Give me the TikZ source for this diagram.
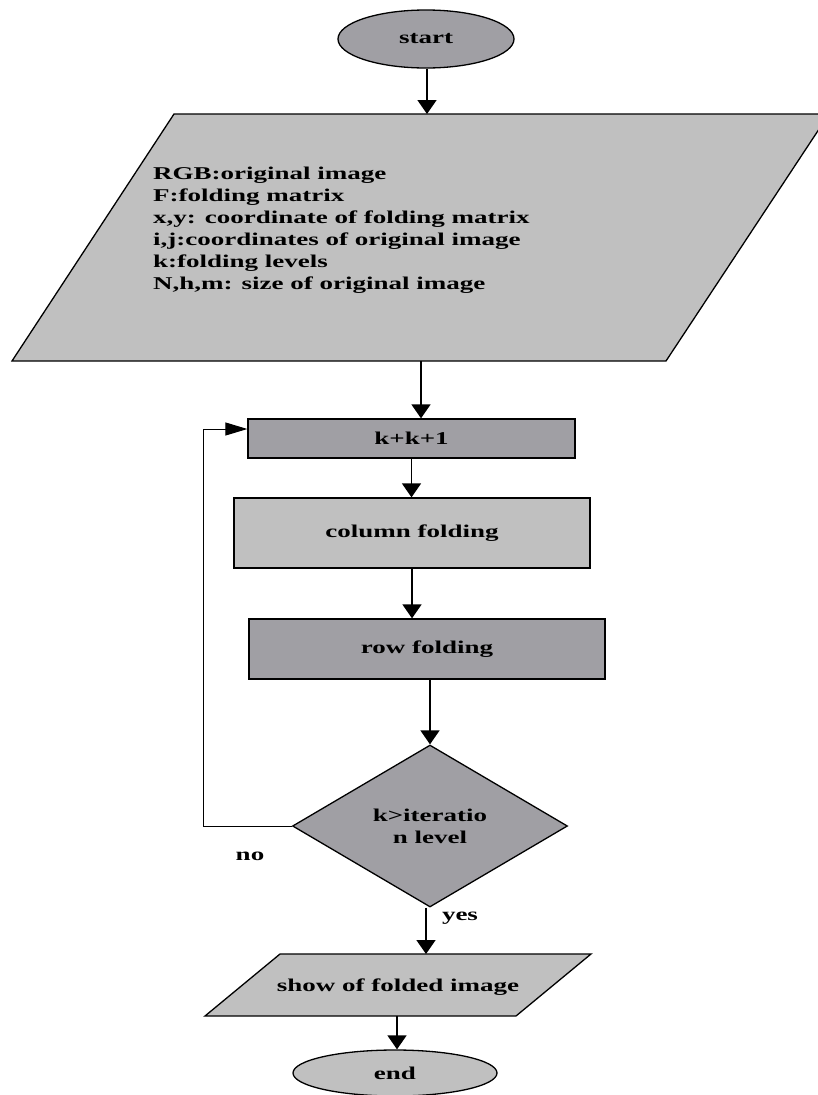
\documentclass[tikz,border=0pt]{standalone}
\usepackage{fontspec}
\setmainfont{Liberation Serif}[FakeStretch=1.5]
\usetikzlibrary{shapes.geometric,arrows.meta,calc}
\definecolor{darkg}{HTML}{A09FA4}
\definecolor{lightg}{HTML}{C0C0C0}
\begin{document}
\begin{tikzpicture}[x=1pt,y=-1pt,
  lbl/.style={font=\fontsize{18}{22}\selectfont\bfseries, inner sep=0pt},
  shp/.style={draw=black, line width=1.3pt},
  varrow/.style={line width=1.6pt, -{Triangle[length=14pt,width=19pt]}},
  harrow/.style={line width=1pt, -{Triangle[length=22pt,width=13pt]}},
  boxnode/.style={shp, rectangle, lbl},
  ovalnode/.style={shp, ellipse, lbl},
]
\useasboundingbox (0,0) rectangle (817,1095);

% start
\node[ovalnode, fill=darkg, minimum width=176pt, minimum height=58pt] (start) at (426,39) {start};

% input parallelogram
\draw[shp, fill=lightg] (174,114) -- (829,114) -- (666,361) -- (12,361) -- cycle;
\coordinate (pin) at (427,114);
\coordinate (pout) at (421,361);
\node[lbl, align=left, anchor=west] (inp) at (153,230) {RGB:original image\\F:folding matrix\\x,y: coordinate of folding matrix\\i,j:coordinates of original image\\k:folding levels\\N,h,m: size of original image};

% boxes
\node[boxnode, fill=darkg, minimum width=327pt, minimum height=39pt] (k) at (411.5,438.5) {k+k+1};
\node[boxnode, fill=lightg, minimum width=356pt, minimum height=70pt] (col) at (412,533) {column folding};
\node[boxnode, fill=darkg, minimum width=356pt, minimum height=60pt] (row) at (427,649) {row folding};

% decision
\node[shp, diamond, aspect=1.7, fill=darkg, minimum width=275pt, minimum height=162pt, lbl, align=center] (dia) at (430,826) {k>iteratio\\n level};

% output parallelogram
\draw[shp, fill=lightg] (280,954) -- (591,954) -- (516,1016) -- (205,1016) -- cycle;
\coordinate (sin) at (426,954);
\coordinate (sout) at (397,1016);
\node[lbl] (show) at (398,987) {show of folded image};

% end
\node[ovalnode, fill=lightg, minimum width=204pt, minimum height=46pt] (end) at (395,1073) {end};

% labels
\node[lbl] (no) at (250,856) {no};
\node[lbl] (yes) at (460,918) {yes};

% connectors
\draw[varrow] (pin |- start.south) -- (pin);
\draw[varrow] (pout) -- (pout |- k.north);
\draw[varrow] (k.south) -- (k.south |- col.north);
\draw[varrow] (col.south) -- (col.south |- row.north);
\draw[varrow] (row.south -| dia.north) -- (dia.north);
\draw[varrow] (sin |- dia.south) -- (sin);
\draw[varrow] (sout) -- (sout |- end.north);
\coordinate (lc) at (203,429);
\draw[harrow] (dia.west) -| (lc) -- (lc -| k.west);
\end{tikzpicture}
\end{document}
